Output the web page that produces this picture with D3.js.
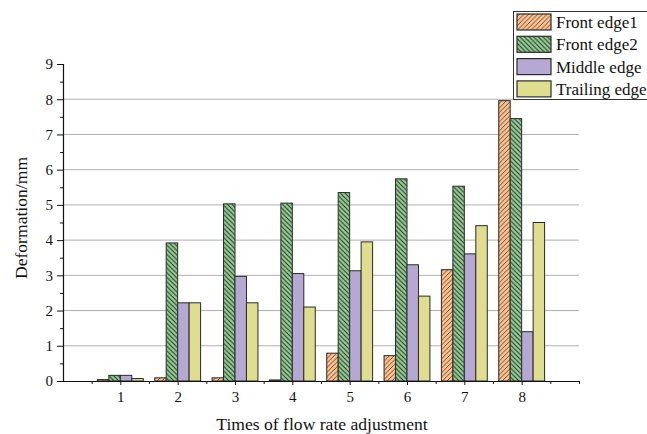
<!DOCTYPE html>
<html><head><meta charset="utf-8">
<script src="https://cdn.jsdelivr.net/npm/d3@7"></script>
<style>body{margin:0;background:#fff}</style>
</head><body>
<svg id="c" width="647" height="434"></svg>
<script>
const categories = [1,2,3,4,5,6,7,8];
const seriesNames = ["Front edge1","Front edge2","Middle edge","Trailing edge"];
const frontEdge1 = [0.04,0.09,0.09,0.03,0.79,0.72,3.16,7.96];
const frontEdge2 = [0.16,3.92,5.03,5.05,5.35,5.74,5.53,7.45];
const middleEdge = [0.16,2.22,2.97,3.05,3.13,3.30,3.61,1.40];
const trailingEdge = [0.07,2.22,2.22,2.10,3.95,2.41,4.41,4.50];
const yTicks = [0,1,2,3,4,5,6,7,8,9];
const xTicks = [1,2,3,4,5,6,7,8];
const series = [frontEdge1, frontEdge2, middleEdge, trailingEdge];
const fills = ["#FFC08C","#93D192","#B5A8D2","#DFDD90"];
const patterns = ["p1","p2",null,null];

const svg = d3.select("#c");
const font = "'Liberation Serif','Times New Roman',serif";
const defs = svg.append("defs");
function hatch(id, color, size, dir, sw){
  const p = defs.append("pattern").attr("id",id).attr("patternUnits","userSpaceOnUse")
    .attr("width",size).attr("height",size);
  p.append("rect").attr("width",size).attr("height",size).attr("fill",color);
  const d = dir > 0
    ? `M0,${size} L${size},0 M${-size/2},${size/2} L${size/2},${-size/2} M${size/2},${size*1.5} L${size*1.5},${size/2}`
    : `M0,0 L${size},${size} M${-size/2},${size/2} L${size/2},${size*1.5} M${size/2},${-size/2} L${size*1.5},${size/2}`;
  p.append("path").attr("d",d).attr("stroke","#2a2a2a").attr("stroke-width",sw);
}
hatch("p1", fills[0], 4.6, 1, 0.75);
hatch("p2", fills[1], 4.6, -1, 1.0);
const fillOf = i => patterns[i] ? `url(#${patterns[i]})` : fills[i];

const x = d3.scaleLinear().domain([0,9]).range([63,579]);
const y = d3.scaleLinear().domain([0,9]).range([381,64]);

// gridlines
svg.append("g").selectAll("line").data(yTicks.filter(t=>t>0 && t<9)).join("line")
  .attr("x1",x(0)).attr("x2",x(9)).attr("y1",d=>y(d)).attr("y2",d=>y(d))
  .attr("stroke","#b0b0b0").attr("stroke-width",1);

// bars
const bw = 0.2;
series.forEach((s,i)=>{
  svg.append("g").selectAll("rect").data(s).join("rect")
    .attr("x",(d,j)=>x(categories[j] - 0.4 + i*bw))
    .attr("width", x(bw)-x(0))
    .attr("y", d=>y(d))
    .attr("height", d=>y(0)-y(d))
    .attr("fill", fillOf(i))
    .attr("stroke","#2a2a2a").attr("stroke-width",1);
});

// y axis
const yAxis = d3.axisLeft(y).tickValues(yTicks).tickSize(6).tickFormat(d3.format("d"));
const gy = svg.append("g").attr("transform",`translate(${x(0)},0)`).call(yAxis);
gy.selectAll(".tick text").attr("font-family",font).attr("font-size",15).attr("fill","#111").attr("dx","-1");
const yMinor = d3.axisLeft(y).tickValues(d3.range(0.5,9,1)).tickSize(3).tickFormat("");
const gym = svg.append("g").attr("transform",`translate(${x(0)},0)`).call(yMinor);
gym.select(".domain").remove();

// x axis
const xAxis = d3.axisBottom(x).tickValues(xTicks).tickSize(4).tickSizeOuter(0).tickFormat(d3.format("d"));
const gx = svg.append("g").attr("transform",`translate(0,${y(0)})`).call(xAxis);
gx.selectAll(".tick text").attr("font-family",font).attr("font-size",15).attr("fill","#111").attr("dy","0.95em");
const xMinor = d3.axisBottom(x).tickValues(d3.range(0.5,9.01,1).concat([9])).tickSize(3).tickFormat("");
const gxm = svg.append("g").attr("transform",`translate(0,${y(0)})`).call(xMinor);
gxm.select(".domain").remove();
svg.selectAll(".domain").attr("stroke","#111").attr("stroke-width",1.2);
svg.selectAll(".tick line").attr("stroke","#111");

// axis titles
svg.append("text").attr("x",322).attr("y",430).attr("text-anchor","middle")
  .attr("font-family",font).attr("font-size",17.6).attr("fill","#111").text("Times of flow rate adjustment");
svg.append("text").attr("transform","translate(27,218) rotate(-90)").attr("text-anchor","middle")
  .attr("font-family",font).attr("font-size",17.6).attr("fill","#111").text("Deformation/mm");

// legend
const lg = svg.append("g");
lg.append("rect").attr("x",513.5).attr("y",11.5).attr("width",150).attr("height",88)
  .attr("fill","#fff").attr("stroke","#333").attr("stroke-width",1);
seriesNames.forEach((n,i)=>{
  const yy = 14 + i*22.3;
  lg.append("rect").attr("x",517).attr("y",yy).attr("width",34).attr("height",16)
    .attr("fill",fillOf(i)).attr("stroke","#2a2a2a").attr("stroke-width",1.2);
  lg.append("text").attr("x",556).attr("y",yy+14).attr("font-family",font).attr("font-size",17)
    .attr("fill","#111").text(n);
});
</script>
</body></html>
